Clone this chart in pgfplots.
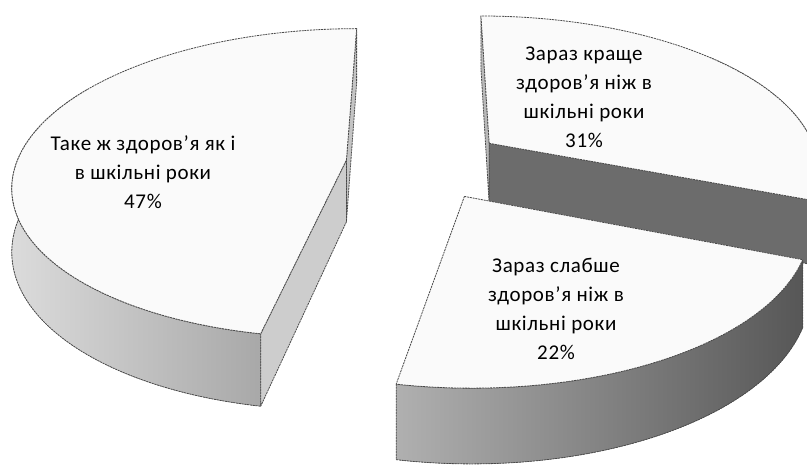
\documentclass[border=0pt]{standalone}
\usepackage{pgfplots}
\pgfplotsset{compat=1.18}
\usepackage{pgfplotstable}
\usepackage{fontspec}
\setmainfont{Carlito}[LetterSpace=3]

\definecolor{topc}{HTML}{FAFAFA}
\definecolor{edgec}{HTML}{4A4A4A}
\definecolor{darkcut}{HTML}{6C6C6C}
\definecolor{lightcut}{HTML}{CDCDCD}
\definecolor{backcut}{HTML}{C4C4C4}

% pie values (percent), clockwise from 12 o'clock
\pgfplotstableread{
value
31
22
47
}\piedata
\pgfplotstablegetelem{0}{value}\of\piedata\let\vA\pgfplotsretval
\pgfplotstablegetelem{1}{value}\of\piedata\let\vB\pgfplotsretval
\pgfplotstablegetelem{2}{value}\of\piedata\let\vC\pgfplotsretval

\pgfmathsetmacro\aA{90-3.6*\vA}      % end of slice A
\pgfmathsetmacro\aB{\aA-3.6*\vB}     % end of slice B
\pgfmathsetmacro\aCe{90+3.6*\vC}     % slice C from 90 to this
\def\ex{0.24}
\pgfmathsetmacro\Aox{\ex*cos((90+\aA)/2)}
\pgfmathsetmacro\Aov{\ex*sin((90+\aA)/2)}
\pgfmathsetmacro\Bx{\ex*cos((\aA+\aB)/2)}
\pgfmathsetmacro\Bv{\ex*sin((\aA+\aB)/2)}
\pgfmathsetmacro\Cox{\ex*cos((90+\aCe)/2)}
\pgfmathsetmacro\Cov{\ex*sin((90+\aCe)/2)}

% simple perspective projection of the pie plane
\pgfmathdeclarefunction{PX}{2}{\pgfmathparse{425+330*(#1)/(1+0.15*(#2))}}
\pgfmathdeclarefunction{PY}{2}{\pgfmathparse{302.6+(152*(#1)-62*(#2))/(1+0.15*(#1))}}

% top face: style, ox, ov, a1, a2
\newcommand\TopFace[5]{\filldraw[edge,#1] ({PX(#2,#3)},{PY(#3,0)}) -- plot[domain=#4:#5, samples=90, variable=\t] ({PX(#2+cos(\t),#3+sin(\t))},{PY(#3+sin(\t),0)}) -- cycle;}
% outer side: style, ox, ov, a1, a2
\newcommand\SideFace[5]{\filldraw[edge,#1] plot[domain=#4:#5, samples=90, variable=\t] ({PX(#2+cos(\t),#3+sin(\t))},{PY(#3+sin(\t),0)}) -- plot[domain=#5:#4, samples=90, variable=\t] ({PX(#2+cos(\t),#3+sin(\t))},{PY(#3+sin(\t),1)}) -- cycle;}
% radial cut face: style, ox, ov, angle
\newcommand\CutFace[4]{\filldraw[edge,#1] ({PX(#2,#3)},{PY(#3,0)}) -- ({PX(#2+cos(#4),#3+sin(#4))},{PY(#3+sin(#4),0)}) -- ({PX(#2+cos(#4),#3+sin(#4))},{PY(#3+sin(#4),1)}) -- ({PX(#2,#3)},{PY(#3,1)}) -- cycle;}

\tikzset{edge/.style={draw=edgec, line width=0.8pt, dash pattern=on 2pt off 0.8pt, line join=round}}

\begin{document}
\begin{tikzpicture}
\begin{axis}[width=807pt, height=466pt, scale only axis,
  xmin=0, xmax=807, ymin=0, ymax=466, hide axis, clip=true]
\path (axis cs:0,0) rectangle (axis cs:807,466);

% ---- slice A (31%), back right
\CutFace{fill=gray!55}{\Aox}{\Aov}{90}
\SideFace{fill=darkcut}{\Aox}{\Aov}{\aA}{40}
\CutFace{fill=darkcut}{\Aox}{\Aov}{\aA}
\TopFace{fill=topc}{\Aox}{\Aov}{\aA}{90}

% ---- slice C (47%), left
\CutFace{fill=backcut}{\Cox}{\Cov}{90}
\SideFace{left color=gray!28, right color=gray!68}{\Cox}{\Cov}{150}{\aCe}
\CutFace{fill=lightcut}{\Cox}{\Cov}{\aCe}
\TopFace{fill=topc}{\Cox}{\Cov}{90}{\aCe}

% ---- slice B (22%), front right
\SideFace{left color=gray!62, right color=black!66}{\Bx}{\Bv}{\aB}{\aA}
\TopFace{fill=topc}{\Bx}{\Bv}{\aB}{\aA}

% ---- labels
\node[align=center, font=\fontsize{21}{29}\selectfont] at (axis cs:143,294) {Таке ж здоров’я як і\\в шкільні роки\\47\%};
\node[align=center, font=\fontsize{21}{29}\selectfont] at (axis cs:584,369) {Зараз краще\\здоров’я ніж в\\шкільні роки\\31\%};
\node[align=center, font=\fontsize{21}{29}\selectfont] at (axis cs:556,157) {Зараз слабше\\здоров’я ніж в\\шкільні роки\\22\%};
\end{axis}
\pgfresetboundingbox
\path[use as bounding box] (current axis.south west) rectangle (current axis.north east);
\end{tikzpicture}
\end{document}
